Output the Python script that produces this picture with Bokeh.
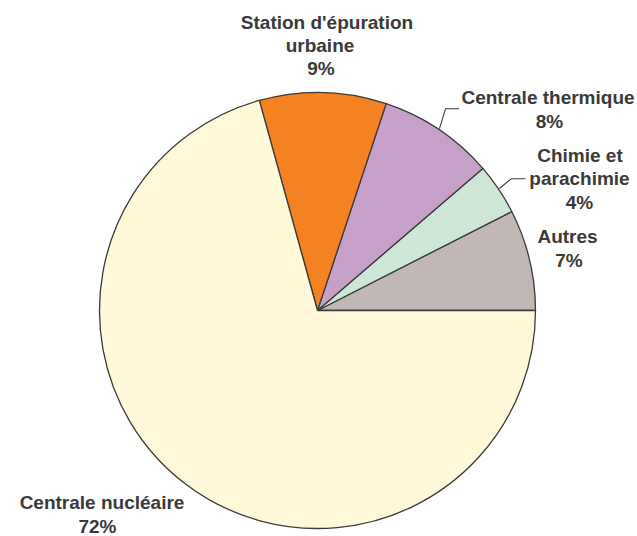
import math
from bokeh.plotting import figure
from bokeh.models import ColumnDataSource, Range1d
from bokeh.core.properties import value
from bokeh.embed import file_html
from bokeh.resources import INLINE

# Data (counter-clockwise from 3 o'clock)
categories = ["Autres", "Chimie et parachimie", "Centrale thermique",
              "Station d'épuration urbaine", "Centrale nucléaire"]
shares = [7.5, 3.8, 8.6, 9.4, 70.7]
pct_labels = ["7%", "4%", "8%", "9%", "72%"]
colors = ["#C1B7B4", "#CDE6D6", "#C7A0C9", "#F58220", "#FFF9D9"]

W, H = 637, 536
p = figure(width=W, height=H, output_backend="svg", toolbar_location=None,
           x_range=Range1d(0, W), y_range=Range1d(0, H), min_border=0)
p.axis.visible = False
p.grid.visible = False
p.outline_line_color = None
p.background_fill_color = "white"
p.border_fill_color = "white"

def px(x):  # picture x -> data x
    return x
def py(y):  # picture y -> data y
    return H - y

cx, cy, R = px(317), py(310), 218

total = sum(shares)
starts, ends = [], []
acc = 0.0
for s in shares:
    starts.append(2 * math.pi * acc / total)
    acc += s
    ends.append(2 * math.pi * acc / total)

src = ColumnDataSource(dict(start=starts, end=ends, color=colors, cat=categories))
p.wedge(x=cx, y=cy, radius=R, start_angle="start", end_angle="end",
        fill_color="color", line_color="#3a3a3a", line_width=1.3, source=src)

def mid(i):
    return (starts[i] + ends[i]) / 2

lead = {2: (px(445), py(108.3), px(458.5)), 1: (px(510.7), py(178.3), px(525))}
for i, (ex, ey, hx) in lead.items():
    a = mid(i)
    sx = cx + (R + 1) * math.cos(a)
    sy = cy + (R + 1) * math.sin(a)
    p.line([sx, ex, hx], [sy, ey, ey], line_color="#3a3a3a", line_width=1.1)

SHIFT = 7  # renderer draws alphabetic baseline lower than requested
label_lines = [
    ("Station d'épuration", 326.5, 29),
    ("urbaine", 319.5, 52),
    (pct_labels[3], 320.5, 75),
    ("Centrale thermique", 547.5, 104),
    (pct_labels[2], 549, 128),
    ("Chimie et", 579.5, 161.5),
    ("parachimie", 579, 185),
    (pct_labels[1], 579, 208.5),
    ("Autres", 567, 242.5),
    (pct_labels[0], 568.5, 266.5),
    ("Centrale nucléaire", 101.5, 509),
    (pct_labels[4], 97, 533),
]
tsrc = ColumnDataSource(dict(
    x=[px(l[1]) for l in label_lines],
    y=[py(l[2] - SHIFT) for l in label_lines],
    t=[l[0] for l in label_lines]))
p.text(x="x", y="y", text="t", source=tsrc, text_font=value("Liberation Sans"),
       text_font_style="bold", text_font_size="19px", text_color="#3a3a3a",
       text_align="center", text_baseline="alphabetic")

open("out.html", "w").write(file_html(p, INLINE))
